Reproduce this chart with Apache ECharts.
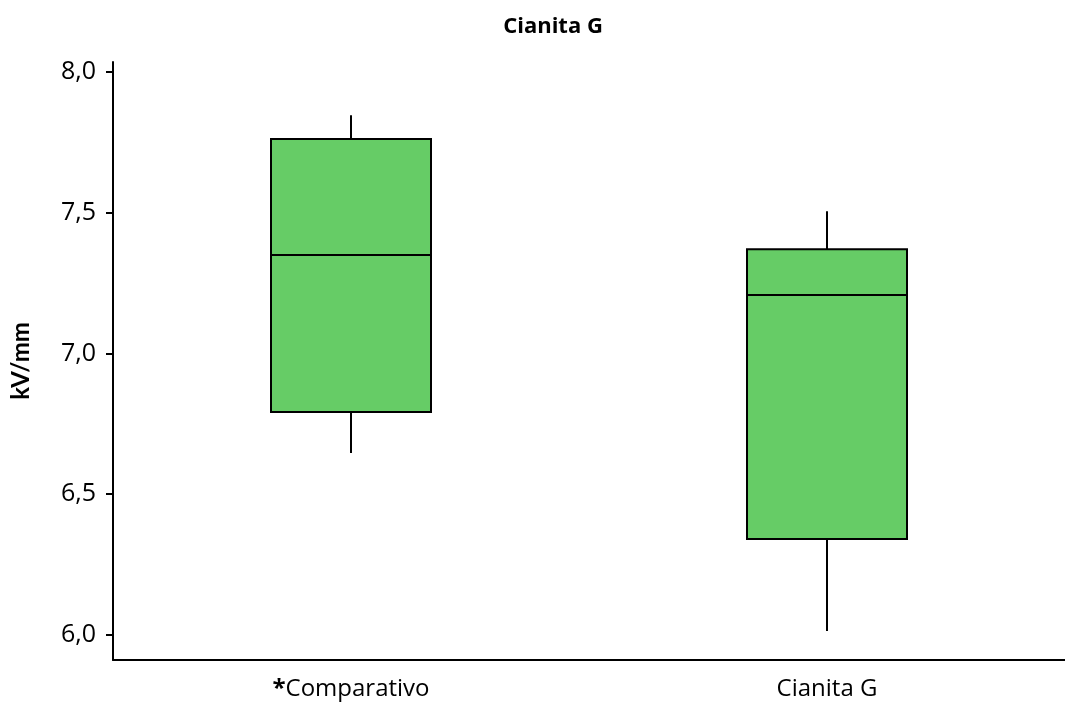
<!DOCTYPE html>
<html>
<head>
<meta charset="utf-8">
<script src="https://cdn.jsdelivr.net/npm/echarts@6/dist/echarts.min.js"></script>
<style>
  html, body { margin: 0; padding: 0; background: #fff; }
  #chart { width: 1065px; height: 706px; }
</style>
</head>
<body>
<div id="chart"></div>
<script>
// Groups on the x axis
const categories = ['*Comparativo', 'Cianita G'];
// Box statistics per group: [lower whisker, Q1, median, Q3, upper whisker] in kV/mm
const comparativoStats = [6.647, 6.792, 7.350, 7.762, 7.847];
const cianitaStats = [6.014, 6.341, 7.208, 7.371, 7.506];
// Labelled y ticks
const yTicks = [6.0, 6.5, 7.0, 7.5, 8.0];

const chart = echarts.init(document.getElementById('chart'));
const FONT = '"Open Sans", Lato, sans-serif';
const NAME_FONT = 'Lato, "Open Sans", sans-serif';
const BOX_HALF = 80;

// rows: [category index, min, q1, median, q3, max]
const boxRows = [comparativoStats, cianitaStats].map(function (s, i) { return [i].concat(s); });

// Box with plain whiskers (no end caps)
function renderBox(params, api) {
  const i = api.value(0);
  const pMin = api.coord([i, api.value(1)]);
  const pQ1 = api.coord([i, api.value(2)]);
  const pMed = api.coord([i, api.value(3)]);
  const pQ3 = api.coord([i, api.value(4)]);
  const pMax = api.coord([i, api.value(5)]);
  const x = pQ1[0];
  const line = { stroke: '#000', lineWidth: 2 };
  return {
    type: 'group',
    children: [
      { type: 'line', shape: { x1: x, y1: pMax[1], x2: x, y2: pQ3[1] }, style: line },
      { type: 'line', shape: { x1: x, y1: pQ1[1], x2: x, y2: pMin[1] }, style: line },
      { type: 'rect', shape: { x: x - BOX_HALF, y: pQ3[1], width: BOX_HALF * 2, height: pQ1[1] - pQ3[1] },
        style: { fill: '#66cc66', stroke: '#000', lineWidth: 2 } },
      { type: 'line', shape: { x1: x - BOX_HALF, y1: pMed[1], x2: x + BOX_HALF, y2: pMed[1] }, style: line }
    ]
  };
}

chart.setOption({
  animation: false,
  backgroundColor: '#ffffff',
  title: {
    text: 'Cianita G',
    left: 548,
    textAlign: 'center',
    top: 11,
    textStyle: { fontFamily: FONT, fontSize: 22, fontWeight: 'bold', color: '#000' }
  },
  grid: { left: 113, right: -3, top: 62, bottom: 46, containLabel: false },
  xAxis: {
    type: 'category',
    data: categories,
    boundaryGap: true,
    axisLine: { lineStyle: { color: '#000', width: 2 } },
    axisTick: { alignWithLabel: true, length: 7, lineStyle: { color: '#000', width: 2 } },
    axisLabel: {
      margin: 17,
      fontFamily: FONT,
      fontSize: 24,
      color: '#000',
      formatter: function (v) {
        return v.charAt(0) === '*' ? '{b|*}' + v.slice(1) : v;
      },
      rich: { b: { fontFamily: FONT, fontSize: 24, fontWeight: 'bold', color: '#000' } }
    },
    splitLine: { show: false }
  },
  yAxis: {
    type: 'value',
    min: 5.911,
    max: 8.036,
    name: 'kV/mm',
    nameLocation: 'middle',
    nameGap: 80,
    nameRotate: 90,
    nameTextStyle: { fontFamily: NAME_FONT, fontSize: 24, fontWeight: 'bold', color: '#000' },
    axisLine: { show: true, lineStyle: { color: '#000', width: 2 } },
    axisTick: { show: true, length: 7, customValues: yTicks, lineStyle: { color: '#000', width: 2 } },
    axisLabel: {
      margin: 17,
      customValues: yTicks,
      fontFamily: FONT,
      fontSize: 25,
      color: '#000',
      formatter: function (v) { return v.toFixed(1).replace('.', ','); }
    },
    splitLine: { show: false }
  },
  series: [{
    type: 'custom',
    data: boxRows,
    encode: { x: 0, y: [1, 2, 3, 4, 5] },
    renderItem: renderBox,
    silent: true
  }]
});
</script>
</body>
</html>
